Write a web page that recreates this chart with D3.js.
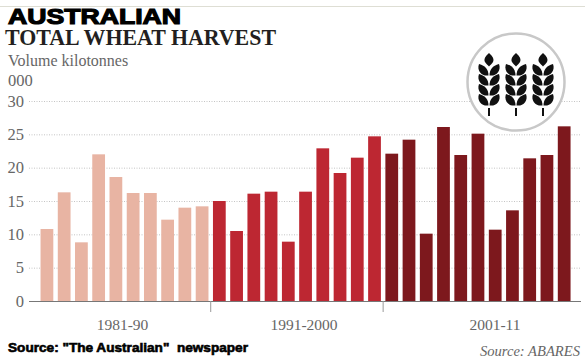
<!DOCTYPE html>
<html>
<head>
<meta charset="utf-8">
<script src="https://cdn.jsdelivr.net/npm/d3@7"></script>
<style>
  html, body { margin: 0; padding: 0; background: #fff; }
  svg { display: block; }
  text { font-family: "Liberation Serif", serif; white-space: pre; }
</style>
</head>
<body>
<script>
// thousands of kilotonnes
const seasons = d3.range(1981, 2012);
const harvest = [10.8, 16.3, 8.8, 22, 18.6, 16.2, 16.2, 12.2, 14, 14.2,
                 15, 10.5, 16.1, 16.4, 8.9, 16.4, 22.9, 19.2, 21.5, 24.7,
                 22.1, 24.2, 10.1, 26.1, 21.9, 25.1, 10.7, 13.6, 21.4, 21.9, 26.2];
const periods = ["1981-90", "1991-2000", "2001-11"];
const periodEnds = [1990, 2000, 2011];
const periodColors = ["#e8b4a3", "#bd2732", "#7d181d"];
const yTicks = [0, 5, 10, 15, 20, 25, 30];

const width = 585, height = 361;

const svg = d3.select("body").append("svg")
    .attr("width", width)
    .attr("height", height);

const x = d3.scaleBand()
    .domain(seasons)
    .range([38.3, 572.8])
    .paddingInner(0.26)
    .paddingOuter(0.13);

const y = d3.scaleLinear()
    .domain([0, 30])
    .range([301, 101]);

const periodOf = s => periodEnds.findIndex(e => s <= e);

// top rule
svg.append("line")
    .attr("x1", 0).attr("x2", width)
    .attr("y1", 6.5).attr("y2", 6.5)
    .attr("stroke", "#deded4");

// titles
svg.append("text")
    .attr("x", 8).attr("y", 24)
    .attr("font-size", 22.5)
    .attr("textLength", 173)
    .attr("lengthAdjust", "spacingAndGlyphs")
    .style("font-family", "'Liberation Sans', sans-serif")
    .attr("font-weight", "bold")
    .attr("stroke", "#000")
    .attr("stroke-width", 1.2)
    .attr("fill", "#000")
    .text("AUSTRALIAN");

svg.append("text")
    .attr("x", 5).attr("y", 45)
    .attr("font-size", 23)
    .attr("textLength", 271)
    .attr("lengthAdjust", "spacingAndGlyphs")
    .attr("font-weight", "bold")
    .attr("fill", "#231f20")
    .text("TOTAL WHEAT HARVEST");

svg.append("text")
    .attr("x", 8).attr("y", 66)
    .attr("font-size", 16)
    .attr("fill", "#666")
    .text("Volume kilotonnes");

svg.append("text")
    .attr("x", 8).attr("y", 86)
    .attr("font-size", 16.5)
    .attr("fill", "#666")
    .text("000");

// y axis with dotted gridlines
const yAxis = svg.append("g")
    .attr("transform", "translate(29,0)")
    .call(d3.axisLeft(y).tickValues(yTicks).tickSize(-552).tickPadding(5));

yAxis.select(".domain").remove();
yAxis.selectAll(".tick line")
    .attr("stroke", d => d === 0 ? "#777" : "#c4c4c4")
    .attr("stroke-width", 1)
    .attr("stroke-dasharray", d => d === 0 ? null : "1,1.5");
yAxis.selectAll(".tick text")
    .attr("font-size", 16.5)
    .style("font-family", "'Liberation Serif', serif")
    .attr("fill", "#666");

// bars
svg.append("g").selectAll("rect")
    .data(seasons)
    .enter()
    .append("rect")
    .attr("x", d => x(d))
    .attr("width", x.bandwidth())
    .attr("y", (d, i) => y(harvest[i]))
    .attr("height", (d, i) => y(0) - y(harvest[i]))
    .attr("fill", d => periodColors[periodOf(d)]);

// period dividers and labels
const edge = s => x(s) + x.bandwidth() + x.step() * x.paddingInner() / 2;

svg.append("g").selectAll("line")
    .data(periodEnds.slice(0, 2))
    .enter()
    .append("line")
    .attr("x1", d => edge(d)).attr("x2", d => edge(d))
    .attr("y1", 301).attr("y2", 312)
    .attr("stroke", "#999");

const labelCentres = [122.5, 304, 495];
svg.append("g").selectAll("text")
    .data(periods)
    .enter()
    .append("text")
    .attr("x", (d, i) => labelCentres[i])
    .attr("y", 330)
    .attr("text-anchor", "middle")
    .attr("font-size", 15.5)
    .attr("fill", "#666")
    .text(d => d);

// sources
svg.append("text")
    .attr("x", 8).attr("y", 352)
    .attr("font-size", 12.5)
    .attr("textLength", 240)
    .attr("lengthAdjust", "spacingAndGlyphs")
    .style("font-family", "'Liberation Sans', sans-serif")
    .attr("font-weight", "bold")
    .attr("stroke", "#000")
    .attr("stroke-width", 0.6)
    .attr("fill", "#000")
    .text('Source: "The Australian"  newspaper');

svg.append("text")
    .attr("x", 580).attr("y", 356)
    .attr("text-anchor", "end")
    .attr("font-size", 14.6)
    .attr("font-style", "italic")
    .attr("fill", "#666")
    .text("Source: ABARES");

// wheat badge
const badge = svg.append("g").attr("transform", "translate(516,82)");

badge.append("circle")
    .attr("r", 48.5)
    .attr("fill", "#fff")
    .attr("stroke", "#c8c8c8")
    .attr("stroke-width", 2.5);

const leaf = "M0,0.5 C0,-5 -3,-9.5 -9.5,-11 C-12,-4 -6.5,1.5 0,0.5 Z";

[-27, 0, 27].forEach(ex => {
    const ear = badge.append("g").attr("transform", `translate(${ex},0)`);
    ear.append("rect")
        .attr("x", -1).attr("y", 26)
        .attr("width", 2).attr("height", 8)
        .attr("fill", "#111");
    // top grain
    ear.append("path")
        .attr("d", "M0,-29 C3.5,-26 5.5,-23 4,-20 C3,-18 1,-17 0,-15.5 C-1,-17 -3,-18 -4,-20 C-5.5,-23 -3.5,-26 0,-29 Z")
        .attr("fill", "#111");
    [-7, 3, 13, 23].forEach(ly => {
        ear.append("path").attr("d", leaf)
            .attr("transform", `translate(-0.5,${ly})`)
            .attr("fill", "#111");
        ear.append("path").attr("d", leaf)
            .attr("transform", `translate(0.5,${ly}) scale(-1,1)`)
            .attr("fill", "#111");
    });
});
</script>
</body>
</html>
